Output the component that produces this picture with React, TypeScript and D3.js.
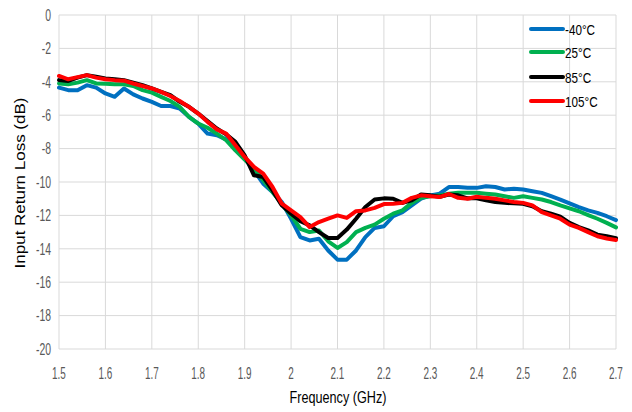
import React from "react";
import * as d3 from "d3";

const freqs = [
  1.50, 1.52, 1.54, 1.56, 1.58, 1.60, 1.62, 1.64, 1.66, 1.68, 1.70, 1.72, 1.74, 1.76, 1.78, 1.80,
  1.82, 1.84, 1.86, 1.88, 1.90, 1.92, 1.94, 1.96, 1.98, 2.00, 2.02, 2.04, 2.06, 2.08, 2.10, 2.12,
  2.14, 2.16, 2.18, 2.20, 2.22, 2.24, 2.26, 2.28, 2.30, 2.32, 2.34, 2.36, 2.38, 2.40, 2.42, 2.44,
  2.46, 2.48, 2.50, 2.52, 2.54, 2.56, 2.58, 2.60, 2.62, 2.64, 2.66, 2.68, 2.70,
];

const minus40 = [
  -4.35, -4.5, -4.5, -4.2, -4.35, -4.7, -4.9, -4.4, -4.75, -5.0, -5.2, -5.45, -5.45, -5.6, -6.1, -6.5,
  -7.1, -7.2, -7.45, -7.9, -8.6, -9.3, -10.1, -10.6, -11.2, -12.2, -13.3, -13.5, -13.4, -14.1, -14.65, -14.65,
  -14.1, -13.3, -12.75, -12.65, -12.05, -11.8, -11.4, -11.0, -10.8, -10.7, -10.3, -10.3, -10.35, -10.35, -10.25, -10.3,
  -10.45, -10.4, -10.45, -10.55, -10.65, -10.85, -11.05, -11.28, -11.5, -11.7, -11.85, -12.05, -12.28,
];

const plus25 = [
  -4.1, -4.15, -4.05, -3.9, -4.1, -4.12, -4.15, -4.15, -4.25, -4.5, -4.65, -4.9, -5.15, -5.5, -6.1, -6.5,
  -6.75, -7.1, -7.5, -8.1, -8.65, -9.2, -9.9, -10.6, -11.3, -12.0, -12.8, -13.0, -12.9, -13.55, -13.95, -13.6,
  -13.0, -12.75, -12.55, -12.2, -11.9, -11.7, -11.25, -10.95, -10.85, -10.8, -10.7, -10.65, -10.65, -10.65, -10.7, -10.75,
  -10.85, -10.95, -10.85, -10.95, -11.05, -11.2, -11.4, -11.58, -11.75, -11.98, -12.2, -12.45, -12.72,
];

const plus85 = [
  -3.9, -3.95, -3.75, -3.6, -3.7, -3.8, -3.85, -3.9, -4.05, -4.2, -4.4, -4.6, -4.8, -5.2, -5.5, -5.9,
  -6.35, -6.8, -7.15, -7.6, -8.4, -9.6, -9.7, -10.5, -11.4, -11.9, -12.35, -12.6, -13.0, -13.35, -13.35, -12.85,
  -12.2, -11.5, -11.05, -10.98, -11.0, -11.25, -11.1, -10.75, -10.8, -10.88, -10.75, -10.8, -10.98, -10.98, -11.1, -11.2,
  -11.25, -11.28, -11.3, -11.45, -11.75, -11.9, -12.08, -12.45, -12.7, -12.9, -13.15, -13.25, -13.37,
];

const plus105 = [
  -3.65, -3.85, -3.72, -3.6, -3.75, -3.85, -3.9, -3.93, -4.1, -4.25, -4.4, -4.6, -4.85, -5.15, -5.5, -5.9,
  -6.4, -6.85, -7.1, -7.8, -8.5, -9.1, -9.5, -10.3, -11.3, -11.7, -12.1, -12.7, -12.4, -12.2, -12.0, -12.15,
  -11.75, -11.7, -11.55, -11.32, -11.3, -11.25, -10.95, -10.8, -10.85, -10.9, -10.72, -10.95, -11.0, -10.88, -10.95, -11.0,
  -11.1, -11.2, -11.25, -11.4, -11.8, -12.0, -12.2, -12.55, -12.75, -13.0, -13.25, -13.38, -13.47,
];

const seriesNames = ["-40°C", "25°C", "85°C", "105°C"];
const seriesColors = ["#0070C0", "#00B050", "#000000", "#FF0000"];
const seriesValues = [minus40, plus25, plus85, plus105];

const xTicks = [1.5, 1.6, 1.7, 1.8, 1.9, 2.0, 2.1, 2.2, 2.3, 2.4, 2.5, 2.6, 2.7];
const yTicks = [0, -2, -4, -6, -8, -10, -12, -14, -16, -18, -20];

const W = 632;
const H = 412;
const left = 59;
const right = 616;
const top = 15;
const bottom = 349;
const FONT = "'Liberation Sans', Arial, sans-serif";

export default function App() {
  const x = d3.scaleLinear().domain([1.5, 2.7]).range([left, right]);
  const y = d3.scaleLinear().domain([-20, 0]).range([bottom, top]);
  const line = d3
    .line<number>()
    .x((_, i) => x(freqs[i]))
    .y((d) => y(d));

  return (
    <svg
      width={W}
      height={H}
      style={{ position: "absolute", left: 0, top: 0, background: "#fff" }}
      fontFamily={FONT}
    >
      <rect x={0} y={0} width={W} height={H} fill="#fff" />
      {xTicks.map((t) => (
        <line key={"gx" + t} x1={x(t)} x2={x(t)} y1={top} y2={bottom} stroke="#d9d9d9" strokeWidth={1} />
      ))}
      {yTicks.map((t) => (
        <line key={"gy" + t} x1={left} x2={right} y1={y(t)} y2={y(t)} stroke="#d9d9d9" strokeWidth={1} />
      ))}
      {yTicks.map((t) => (
        <text
          key={"ty" + t}
          transform={`translate(51,${y(t) + 5.8}) scale(0.65,1)`}
          textAnchor="end"
          fontSize={16}
          fill="#595959"
        >
          {t}
        </text>
      ))}
      {xTicks.map((t) => (
        <text
          key={"tx" + t}
          transform={`translate(${x(t)},379) scale(0.62,1)`}
          textAnchor="middle"
          fontSize={16}
          fill="#595959"
        >
          {t}
        </text>
      ))}
      <text transform="translate(338,403) scale(0.79,1)" textAnchor="middle" fontSize={16} fill="#000">
        Frequency (GHz)
      </text>
      <text
        transform={`translate(20,183) scale(0.9,1) rotate(-90)`}
        dy="0.35em"
        textAnchor="middle"
        fontSize={17}
        fill="#000"
      >
        Input Return Loss (dB)
      </text>
      {seriesValues.map((vals, i) => (
        <path
          key={"s" + i}
          d={line(vals) || ""}
          fill="none"
          stroke={seriesColors[i]}
          strokeWidth={4}
          strokeLinejoin="round"
          strokeLinecap="round"
        />
      ))}
      {seriesNames.map((n, i) => {
        const ly = [29, 52, 77, 101][i];
        return (
          <g key={"lg" + i}>
            <line x1={531} x2={563} y1={ly} y2={ly} stroke={seriesColors[i]} strokeWidth={4} strokeLinecap="round" />
            <text
              transform={`translate(565,${ly + 5.5}) scale(0.78,1)`}
              fontSize={15}
              fill="#000"
            >
              {n}
            </text>
          </g>
        );
      })}
    </svg>
  );
}
